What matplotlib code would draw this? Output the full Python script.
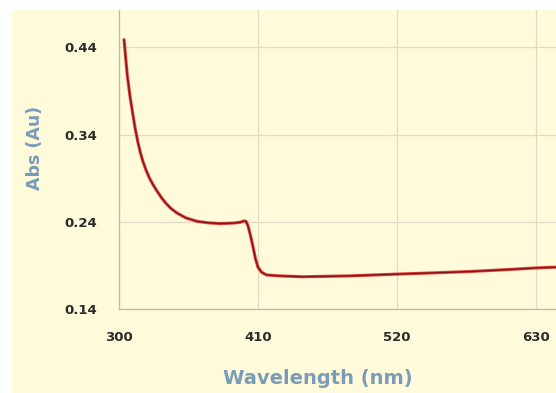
import matplotlib
matplotlib.use("Agg")
import matplotlib.pyplot as plt
from matplotlib.patches import Rectangle

# absorbance spectrum
wavelength = [304, 305.3, 306.5, 308.7, 311, 312.7, 315, 317, 319, 321.5, 324,
              327, 330, 333.5, 337, 341, 346, 353, 362, 371, 380, 390, 396,
              399, 400.5, 402, 404, 406, 408, 410, 413, 417, 427, 445, 465,
              483, 520, 550, 578, 605, 629, 646]
absorbance = [0.449, 0.428, 0.409, 0.384, 0.363, 0.348, 0.331, 0.319, 0.309,
              0.299, 0.2905, 0.2825, 0.2755, 0.268, 0.2615, 0.2555, 0.250,
              0.2445, 0.2405, 0.2388, 0.238, 0.2385, 0.2395, 0.241, 0.2405,
              0.236, 0.225, 0.212, 0.198, 0.188, 0.182, 0.179, 0.178, 0.177,
              0.1775, 0.178, 0.180, 0.1815, 0.183, 0.185, 0.187, 0.188]

x_ticks = [300, 410, 520, 630]
y_ticks = [0.14, 0.24, 0.34, 0.44]

cream = "#FEFADA"
grid_col = "#DEDBC6"
label_col = "#7A9CB8"
font = "DejaVu Sans"

fig = plt.figure(figsize=(5.56, 3.93), dpi=100)
fig.patches.append(Rectangle((12 / 556, 0), 1, 1 - 10 / 393,
                             transform=fig.transFigure, facecolor=cream,
                             edgecolor="none", zorder=-5))

ax = fig.add_axes([119 / 556, 1 - 309 / 393, 437 / 556, 299 / 393])
ax.set_facecolor(cream)

# soft red edge + dark red core, like the reference stroke
ax.plot(wavelength, absorbance, color="#D8302C", lw=2.3, alpha=0.85,
        solid_capstyle="round", solid_joinstyle="round", zorder=3)
ax.plot(wavelength, absorbance, color="#8E1414", lw=1.1,
        solid_capstyle="round", solid_joinstyle="round", zorder=4)

ax.set_xlim(300, 646)
ax.set_ylim(0.14, 0.483)
ax.set_xticks(x_ticks)
ax.set_yticks(y_ticks)
ax.set_xticklabels([str(v) for v in x_ticks])
ax.set_yticklabels([f"{v:.2f}" for v in y_ticks])
ax.grid(True, color=grid_col, lw=0.9)
ax.set_axisbelow(True)

for side in ["top", "right"]:
    ax.spines[side].set_visible(False)
for side in ["left", "bottom"]:
    ax.spines[side].set_color("#BDBBA8")
    ax.spines[side].set_linewidth(0.9)

ax.tick_params(axis="both", length=0, colors="#2B2B2B", labelsize=9.5)
ax.tick_params(axis="y", pad=16)
ax.tick_params(axis="x", pad=16)
for lab in ax.get_xticklabels() + ax.get_yticklabels():
    lab.set_fontfamily(font)
    lab.set_fontweight("bold")

ax.set_xlabel("Wavelength (nm)", fontsize=14, fontweight="bold",
              color=label_col, family=font)
ax.set_ylabel("Abs (Au)", fontsize=12.5, fontweight="bold",
              color=label_col, family=font)
ax.xaxis.set_label_coords((318 - 119) / 437, (309 - 378) / 299)
ax.xaxis.label.set_va("center")
ax.yaxis.set_label_coords((35 - 119) / 437, (309 - 148) / 299)
ax.yaxis.label.set_va("center")

fig.savefig("out.png", dpi=100, facecolor="white")
